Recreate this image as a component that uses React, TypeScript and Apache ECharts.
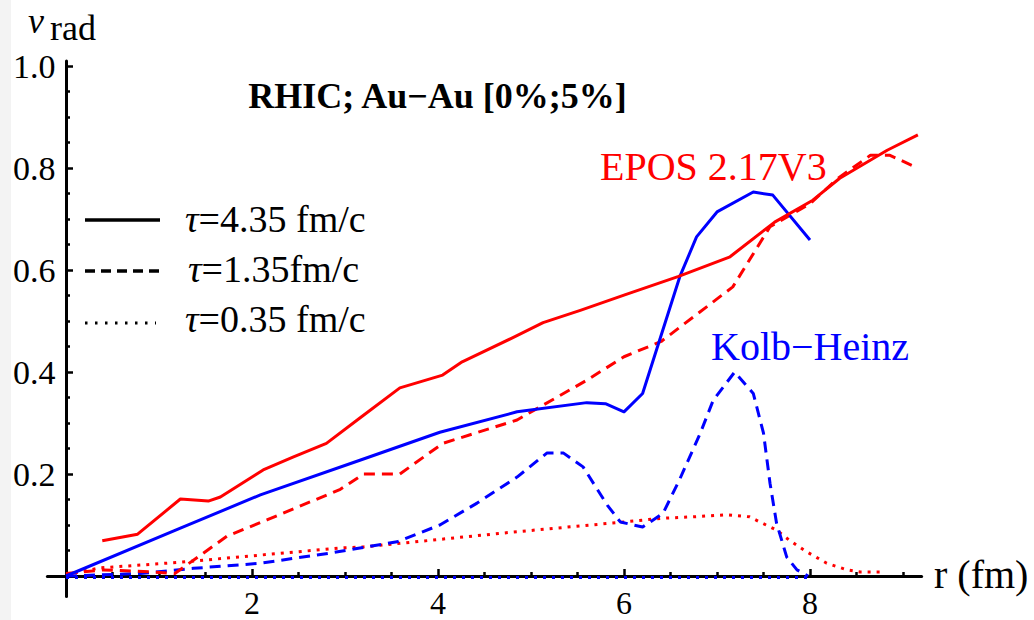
import React, { useEffect, useRef } from "react";
import * as echarts from "echarts";

// EPOS 2.17V3 (red)
const eposTau435: [number, number][] = [
  [0.39, 0.069], [0.77, 0.082], [1.23, 0.151], [1.53, 0.147], [1.66, 0.155], [2.12, 0.208],
  [2.44, 0.233], [2.8, 0.26], [3.16, 0.31], [3.59, 0.369], [4.05, 0.394], [4.26, 0.42],
  [4.8, 0.467], [5.13, 0.497], [5.53, 0.521], [6.0, 0.551], [6.58, 0.587], [7.14, 0.626],
  [7.62, 0.694], [8.03, 0.737], [8.32, 0.78], [8.83, 0.835], [9.16, 0.865],
];
const eposTau135: [number, number][] = [
  [0, 0.005], [0.4, 0.012], [0.93, 0.008], [1.17, 0.005], [1.44, 0.04], [1.73, 0.078],
  [2.16, 0.11], [2.95, 0.17], [3.2, 0.2], [3.59, 0.2], [4.05, 0.26], [4.85, 0.306],
  [5.6, 0.384], [6.0, 0.43], [6.4, 0.46], [7.17, 0.567], [7.57, 0.685], [8.0, 0.73],
  [8.3, 0.78], [8.65, 0.825], [8.86, 0.825], [9.16, 0.8],
];
const eposTau035: [number, number][] = [
  [0, 0.003], [0.37, 0.016], [1.23, 0.027], [2.95, 0.055], [3.2, 0.057], [4.8, 0.086],
  [6.0, 0.106], [6.39, 0.113], [6.74, 0.116], [7.1, 0.12], [7.35, 0.116], [7.46, 0.106],
  [7.64, 0.09], [7.78, 0.07], [7.96, 0.048], [8.18, 0.025], [8.4, 0.012], [8.54, 0.008],
  [8.75, 0.008],
];
// Kolb-Heinz (blue)
const khTau435: [number, number][] = [
  [0, 0], [1.23, 0.094], [2.09, 0.159], [3.16, 0.227], [4.02, 0.282], [4.85, 0.322],
  [5.6, 0.34], [5.8, 0.338], [6.0, 0.322], [6.2, 0.358], [6.6, 0.587], [6.78, 0.665],
  [7.0, 0.714], [7.39, 0.753], [7.6, 0.747], [8.0, 0.659],
];
const khTau135: [number, number][] = [
  [0, 0], [0.8, 0.005], [1.37, 0.015], [2.09, 0.025], [2.84, 0.045], [3.16, 0.055],
  [3.56, 0.067], [4.02, 0.1], [4.42, 0.143], [4.85, 0.194], [5.17, 0.241], [5.35, 0.241],
  [5.56, 0.214], [5.82, 0.139], [5.96, 0.106], [6.2, 0.096], [6.42, 0.123], [6.6, 0.19],
  [6.82, 0.28], [6.96, 0.345], [7.19, 0.4], [7.39, 0.358], [7.5, 0.28], [7.57, 0.182],
  [7.64, 0.104], [7.75, 0.037], [7.86, 0.012], [7.98, 0],
];
const khTau035: [number, number][] = [
  [0, -0.003], [8.0, -0.003],
];

const xMajorTicks = [2, 4, 6, 8];
const xMinorTicks = [0.5, 1, 1.5, 2.5, 3, 3.5, 4.5, 5, 5.5, 6.5, 7, 7.5, 8.5, 9];
const yMajorTicks = [0.2, 0.4, 0.6, 0.8, 1.0];
const yMinorTicks = [0.05, 0.1, 0.15, 0.25, 0.3, 0.35, 0.45, 0.5, 0.55, 0.65, 0.7, 0.75, 0.85, 0.9, 0.95];

const legendLabels = ["4.35 fm/c", "1.35fm/c", "0.35 fm/c"];
const titleText = "RHIC; Au\u2212Au [0%;5%]";
const eposLabel = "EPOS 2.17V3";
const khLabel = "Kolb\u2212Heinz";

const SERIF = "'Liberation Serif', 'Times New Roman', serif";
const RED = "#ff0000";
const BLUE = "#0000ff";
const DASH = [11, 7];
const DOT = [3, 6];

function lineSeries(name: string, data: [number, number][], color: string, type: any) {
  return {
    name,
    type: "line",
    data,
    xAxisIndex: 0,
    yAxisIndex: 0,
    showSymbol: false,
    symbol: "none",
    silent: true,
    lineStyle: { color, width: 3, type, cap: "butt", join: "round" },
  };
}

export default function App() {
  const ref = useRef<HTMLDivElement>(null);
  useEffect(() => {
    if (!ref.current) return;
    const chart = echarts.init(ref.current, null, { renderer: "svg" });
    const axisLineStyle = { color: "#000", width: 3 };
    chart.setOption({
      animation: false,
      backgroundColor: "#fff",
      grid: { left: 47.4, right: 112.4, top: 61, bottom: 23.6, containLabel: false, outerBoundsMode: "none" },
      xAxis: [
        {
          type: "value", min: -0.2, max: 9.2, position: "bottom",
          axisLine: { show: true, onZero: true, onZeroAxisIndex: 0, lineStyle: axisLineStyle },
          axisTick: { show: true, inside: true, length: 7, customValues: xMajorTicks, lineStyle: { color: "#000", width: 2.5 } },
          axisLabel: { show: true, customValues: xMajorTicks, fontFamily: SERIF, fontSize: 32, lineHeight: 32, color: "#000", margin: -9 },
          splitLine: { show: false },
        },
        {
          type: "value", min: -0.2, max: 9.2, position: "bottom",
          axisLine: { show: false, onZero: true, onZeroAxisIndex: 0 },
          axisTick: { show: true, inside: true, length: 4, customValues: xMinorTicks, lineStyle: { color: "#000", width: 2.5 } },
          axisLabel: { show: false },
          splitLine: { show: false },
        },
      ],
      yAxis: [
        {
          type: "value", min: -0.04, max: 1.01, position: "left",
          axisLine: { show: true, onZero: true, onZeroAxisIndex: 0, lineStyle: axisLineStyle },
          axisTick: { show: true, inside: true, length: 7, customValues: yMajorTicks, lineStyle: { color: "#000", width: 2.5 } },
          axisLabel: {
            show: true, customValues: yMajorTicks, fontFamily: SERIF, fontSize: 34, color: "#000", margin: -8,
            formatter: (v: number) => v.toFixed(1),
          },
          splitLine: { show: false },
        },
        {
          type: "value", min: -0.04, max: 1.01, position: "left",
          axisLine: { show: false, onZero: true, onZeroAxisIndex: 0 },
          axisTick: { show: true, inside: true, length: 4, customValues: yMinorTicks, lineStyle: { color: "#000", width: 2.5 } },
          axisLabel: { show: false },
          splitLine: { show: false },
        },
      ],
      series: [
        lineSeries("KH 0.35", khTau035, BLUE, DOT),
        lineSeries("EPOS 0.35", eposTau035, RED, DOT),
        lineSeries("KH 1.35", khTau135, BLUE, DASH),
        lineSeries("EPOS 1.35", eposTau135, RED, DASH),
        lineSeries("KH 4.35", khTau435, BLUE, "solid"),
        lineSeries("EPOS 4.35", eposTau435, RED, "solid"),
      ],
      graphic: [
        { type: "rect", left: 0, top: 0, shape: { x: 0, y: 0, width: 11, height: 620 }, style: { fill: "#f3f3f3" }, silent: true, z: -10 },
        // y-axis name v_rad
        { type: "text", style: { text: "v", x: 28, y: 33 - 0.34 * 36, font: `italic 36px ${SERIF}`, fill: "#000", align: "left", verticalAlign: "middle" } },
        { type: "text", style: { text: "rad", x: 50, y: 40 - 0.34 * 36, font: `36px ${SERIF}`, fill: "#000", align: "left", verticalAlign: "middle" } },
        // x-axis name
        { type: "text", style: { text: "r (fm)", x: 934, y: 588 - 0.34 * 40, font: `40px ${SERIF}`, fill: "#000", align: "left", verticalAlign: "middle" } },
        // title
        { type: "text", style: { text: titleText, x: 437.5, y: 108 - 0.34 * 36, font: `bold 36px ${SERIF}`, fill: "#000", align: "center", verticalAlign: "middle" } },
        // series labels
        { type: "text", style: { text: eposLabel, x: 600, y: 180 - 0.34 * 40, font: `40px ${SERIF}`, fill: RED, align: "left", verticalAlign: "middle" } },
        { type: "text", style: { text: khLabel, x: 711, y: 360 - 0.34 * 40, font: `40px ${SERIF}`, fill: BLUE, align: "left", verticalAlign: "middle" } },
        // legend
        { type: "line", shape: { x1: 85, y1: 220, x2: 160, y2: 220 }, style: { stroke: "#000", lineWidth: 3.5 } },
        { type: "line", shape: { x1: 85, y1: 271, x2: 160, y2: 271 }, style: { stroke: "#000", lineWidth: 3.5, lineDash: [10, 6] } },
        { type: "line", shape: { x1: 85, y1: 323, x2: 156, y2: 323 }, style: { stroke: "#000", lineWidth: 3, lineDash: [2.5, 7.5] } },
        ...legendLabels.map((lab, i) => ({
          type: "text",
          style: {
            text: `{t|\u03c4}{n|=${lab}}`,
            x: i === 1 ? 188 : 185,
            y: 232 + 50 * i - 0.34 * 38,
            align: "left",
            verticalAlign: "middle",
            fill: "#000",
            rich: {
              t: { fontFamily: SERIF, fontStyle: "italic", fontSize: 38, fill: "#000" },
              n: { fontFamily: SERIF, fontSize: 38, fill: "#000" },
            },
          },
        })),
      ],
    });
    return () => chart.dispose();
  }, []);
  return (
    <div
      ref={ref}
      style={{ position: "absolute", left: 0, top: 0, width: 1034, height: 620, background: "#fff" }}
    />
  );
}
